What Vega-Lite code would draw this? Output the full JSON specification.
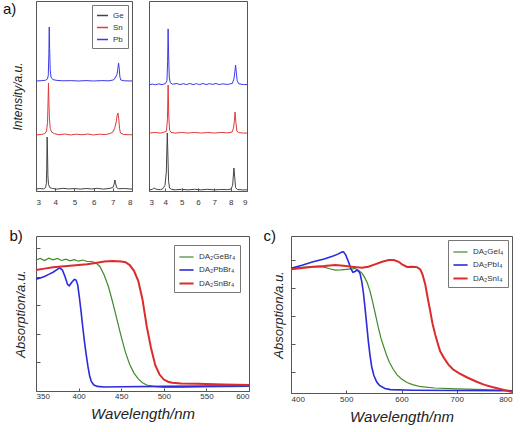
{
  "$schema": "https://vega.github.io/schema/vega-lite/v6.json",
  "padding": {"left": 2, "top": 0, "right": 0, "bottom": 0},
  "config": {
    "font": "Liberation Sans",
    "view": {"stroke": "#555555", "strokeWidth": 1},
    "axis": {"domain": false, "grid": false, "labelFontSize": 8, "labelColor": "#333333", "tickColor": "#555555", "titleFontWeight": "normal", "titleColor": "#222222", "titleFont": "Liberation Sans"},
    "legend": {"labelFontSize": 8, "labelColor": "#333333", "symbolType": "stroke", "strokeColor": "#777777", "fillColor": "white", "padding": 4, "rowPadding": 1, "symbolStrokeWidth": 1.5},
    "title": {"fontWeight": "normal", "fontSize": 15, "anchor": "start", "frame": "bounds", "color": "#111111"}
  },
  "resolve": {"scale": {"color": "independent", "strokeWidth": "independent", "x": "independent", "y": "independent"}, "legend": {"color": "independent", "strokeWidth": "independent"}},
  "spacing": 21,
  "vconcat": [
    {
      "spacing": 11,
      "resolve": {"scale": {"color": "independent", "x": "independent", "y": "independent"}, "legend": {"color": "independent"}},
      "hconcat": [
        {
          "title": {"text": "a)", "offset": -16, "dx": -8},
          "width": 96,
          "height": 190,
          "data": {"values": [
            {"s":"Ge","x":3.0,"y":1.0},{"s":"Ge","x":3.2,"y":1.3},{"s":"Ge","x":3.4,"y":1.1},{"s":"Ge","x":3.5,"y":1.8},{"s":"Ge","x":3.54,"y":4},{"s":"Ge","x":3.56,"y":12},{"s":"Ge","x":3.58,"y":28.4},{"s":"Ge","x":3.6,"y":20},{"s":"Ge","x":3.62,"y":8},{"s":"Ge","x":3.65,"y":3.5},{"s":"Ge","x":3.72,"y":1.8},{"s":"Ge","x":3.85,"y":1.3},{"s":"Ge","x":4.1,"y":1.0},{"s":"Ge","x":4.4,"y":1.4},{"s":"Ge","x":4.7,"y":1.1},{"s":"Ge","x":5.0,"y":1.3},{"s":"Ge","x":5.3,"y":1.0},{"s":"Ge","x":5.6,"y":1.3},{"s":"Ge","x":5.9,"y":1.1},{"s":"Ge","x":6.2,"y":1.4},{"s":"Ge","x":6.5,"y":1.0},{"s":"Ge","x":6.8,"y":1.3},{"s":"Ge","x":7.0,"y":1.8},{"s":"Ge","x":7.06,"y":3.2},{"s":"Ge","x":7.11,"y":5.8},{"s":"Ge","x":7.15,"y":3.8},{"s":"Ge","x":7.2,"y":1.8},{"s":"Ge","x":7.3,"y":1.2},{"s":"Ge","x":7.6,"y":1.3},{"s":"Ge","x":8.0,"y":1.0},
            {"s":"Sn","x":3.0,"y":29.5},{"s":"Sn","x":3.3,"y":29.8},{"s":"Sn","x":3.45,"y":30.2},{"s":"Sn","x":3.55,"y":31.5},{"s":"Sn","x":3.6,"y":36},{"s":"Sn","x":3.63,"y":48},{"s":"Sn","x":3.65,"y":56.8},{"s":"Sn","x":3.67,"y":48},{"s":"Sn","x":3.7,"y":38},{"s":"Sn","x":3.74,"y":33},{"s":"Sn","x":3.82,"y":31},{"s":"Sn","x":3.95,"y":30.2},{"s":"Sn","x":4.2,"y":29.6},{"s":"Sn","x":4.5,"y":30},{"s":"Sn","x":4.8,"y":29.5},{"s":"Sn","x":5.1,"y":29.9},{"s":"Sn","x":5.4,"y":29.6},{"s":"Sn","x":5.7,"y":30},{"s":"Sn","x":6.0,"y":29.5},{"s":"Sn","x":6.3,"y":29.9},{"s":"Sn","x":6.6,"y":29.7},{"s":"Sn","x":6.85,"y":30.2},{"s":"Sn","x":7.0,"y":31},{"s":"Sn","x":7.1,"y":33},{"s":"Sn","x":7.18,"y":36.5},{"s":"Sn","x":7.23,"y":40},{"s":"Sn","x":7.27,"y":41},{"s":"Sn","x":7.31,"y":38},{"s":"Sn","x":7.35,"y":33},{"s":"Sn","x":7.4,"y":30.5},{"s":"Sn","x":7.55,"y":29.8},{"s":"Sn","x":7.8,"y":29.6},{"s":"Sn","x":8.0,"y":29.6},
            {"s":"Pb","x":3.0,"y":57.9},{"s":"Pb","x":3.3,"y":58.1},{"s":"Pb","x":3.5,"y":58.3},{"s":"Pb","x":3.6,"y":59},{"s":"Pb","x":3.64,"y":61},{"s":"Pb","x":3.67,"y":72},{"s":"Pb","x":3.69,"y":86.3},{"s":"Pb","x":3.71,"y":75},{"s":"Pb","x":3.74,"y":64},{"s":"Pb","x":3.78,"y":60},{"s":"Pb","x":3.88,"y":58.6},{"s":"Pb","x":4.1,"y":58.2},{"s":"Pb","x":4.4,"y":58},{"s":"Pb","x":4.8,"y":58.1},{"s":"Pb","x":5.2,"y":57.9},{"s":"Pb","x":5.6,"y":58.1},{"s":"Pb","x":6.0,"y":57.9},{"s":"Pb","x":6.4,"y":58.1},{"s":"Pb","x":6.8,"y":58},{"s":"Pb","x":7.05,"y":58.5},{"s":"Pb","x":7.15,"y":60},{"s":"Pb","x":7.22,"y":61.5},{"s":"Pb","x":7.26,"y":64},{"s":"Pb","x":7.3,"y":67.4},{"s":"Pb","x":7.33,"y":65},{"s":"Pb","x":7.37,"y":60},{"s":"Pb","x":7.42,"y":58.4},{"s":"Pb","x":7.6,"y":58},{"s":"Pb","x":8.0,"y":57.9}
          ]},
          "mark": {"type": "line", "strokeWidth": 1},
          "encoding": {
            "x": {"field": "x", "type": "quantitative", "scale": {"domain": [3, 8], "nice": false, "zero": false}, "axis": {"values": [3, 4, 5, 6, 7, 8], "title": null, "tickSize": -3, "labelPadding": 10}},
            "y": {"field": "y", "type": "quantitative", "scale": {"domain": [0, 100]}, "axis": {"title": "Intensity/a.u.", "titleFontStyle": "italic", "titleFontSize": 12, "labels": false, "ticks": false, "titlePadding": 12}},
            "color": {"field": "s", "type": "nominal", "scale": {"domain": ["Ge", "Sn", "Pb"], "range": ["#444444", "#e03a3a", "#3a3ae6"]}, "legend": {"title": null, "orient": "top-right", "offset": 4, "symbolSize": 120, "labelFontSize": 8}}
          }
        },
        {
          "width": 98,
          "height": 190,
          "data": {"values": [
            {"s":"Ge","x":3.0,"y":0.6},{"s":"Ge","x":3.2,"y":0.8},{"s":"Ge","x":3.3,"y":1.6},{"s":"Ge","x":3.38,"y":1.2},{"s":"Ge","x":3.5,"y":0.8},{"s":"Ge","x":3.7,"y":0.7},{"s":"Ge","x":3.85,"y":1.2},{"s":"Ge","x":3.98,"y":3},{"s":"Ge","x":4.06,"y":10},{"s":"Ge","x":4.12,"y":30.5},{"s":"Ge","x":4.16,"y":18},{"s":"Ge","x":4.2,"y":5},{"s":"Ge","x":4.26,"y":1.5},{"s":"Ge","x":4.4,"y":0.8},{"s":"Ge","x":4.6,"y":0.6},{"s":"Ge","x":5.0,"y":0.9},{"s":"Ge","x":5.4,"y":0.6},{"s":"Ge","x":5.8,"y":0.9},{"s":"Ge","x":6.2,"y":0.6},{"s":"Ge","x":6.6,"y":0.9},{"s":"Ge","x":7.0,"y":0.6},{"s":"Ge","x":7.4,"y":0.8},{"s":"Ge","x":7.8,"y":0.7},{"s":"Ge","x":8.02,"y":1.0},{"s":"Ge","x":8.12,"y":3},{"s":"Ge","x":8.2,"y":12.1},{"s":"Ge","x":8.25,"y":7},{"s":"Ge","x":8.3,"y":1.8},{"s":"Ge","x":8.4,"y":0.8},{"s":"Ge","x":8.7,"y":0.6},{"s":"Ge","x":9.0,"y":0.6},
            {"s":"Sn","x":3.0,"y":30.5},{"s":"Sn","x":3.4,"y":30.8},{"s":"Sn","x":3.7,"y":30.5},{"s":"Sn","x":3.9,"y":30.9},{"s":"Sn","x":4.07,"y":31.5},{"s":"Sn","x":4.13,"y":38},{"s":"Sn","x":4.17,"y":55.8},{"s":"Sn","x":4.21,"y":40},{"s":"Sn","x":4.26,"y":32},{"s":"Sn","x":4.35,"y":30.8},{"s":"Sn","x":4.6,"y":30.5},{"s":"Sn","x":5.0,"y":30.8},{"s":"Sn","x":5.4,"y":30.5},{"s":"Sn","x":5.8,"y":30.8},{"s":"Sn","x":6.2,"y":30.5},{"s":"Sn","x":6.6,"y":30.8},{"s":"Sn","x":7.0,"y":30.5},{"s":"Sn","x":7.4,"y":30.8},{"s":"Sn","x":7.8,"y":30.6},{"s":"Sn","x":8.08,"y":31},{"s":"Sn","x":8.17,"y":33},{"s":"Sn","x":8.23,"y":37},{"s":"Sn","x":8.27,"y":41.6},{"s":"Sn","x":8.32,"y":36},{"s":"Sn","x":8.38,"y":31.5},{"s":"Sn","x":8.5,"y":30.7},{"s":"Sn","x":8.8,"y":30.5},{"s":"Sn","x":9.0,"y":30.5},
            {"s":"Pb","x":3.0,"y":55.8},{"s":"Pb","x":3.2,"y":56.3},{"s":"Pb","x":3.4,"y":55.9},{"s":"Pb","x":3.6,"y":56.4},{"s":"Pb","x":3.8,"y":56},{"s":"Pb","x":4.0,"y":56.5},{"s":"Pb","x":4.1,"y":58},{"s":"Pb","x":4.14,"y":68},{"s":"Pb","x":4.17,"y":85.3},{"s":"Pb","x":4.2,"y":72},{"s":"Pb","x":4.24,"y":60},{"s":"Pb","x":4.3,"y":57},{"s":"Pb","x":4.45,"y":56.2},{"s":"Pb","x":4.7,"y":56.6},{"s":"Pb","x":4.9,"y":56},{"s":"Pb","x":5.1,"y":56.5},{"s":"Pb","x":5.3,"y":56},{"s":"Pb","x":5.5,"y":56.6},{"s":"Pb","x":5.7,"y":56},{"s":"Pb","x":5.9,"y":56.5},{"s":"Pb","x":6.1,"y":56},{"s":"Pb","x":6.3,"y":56.6},{"s":"Pb","x":6.5,"y":56},{"s":"Pb","x":6.7,"y":56.5},{"s":"Pb","x":6.9,"y":56.1},{"s":"Pb","x":7.1,"y":56.6},{"s":"Pb","x":7.3,"y":56},{"s":"Pb","x":7.5,"y":56.4},{"s":"Pb","x":7.8,"y":56.1},{"s":"Pb","x":8.1,"y":56.6},{"s":"Pb","x":8.2,"y":59},{"s":"Pb","x":8.26,"y":63},{"s":"Pb","x":8.3,"y":66.3},{"s":"Pb","x":8.35,"y":62},{"s":"Pb","x":8.4,"y":58},{"s":"Pb","x":8.5,"y":56.4},{"s":"Pb","x":8.8,"y":56},{"s":"Pb","x":9.0,"y":56}
          ]},
          "mark": {"type": "line", "strokeWidth": 1},
          "encoding": {
            "x": {"field": "x", "type": "quantitative", "scale": {"domain": [3, 9], "nice": false, "zero": false}, "axis": {"values": [3, 4, 5, 6, 7, 8, 9], "title": null, "tickSize": -3, "labelPadding": 10}},
            "y": {"field": "y", "type": "quantitative", "scale": {"domain": [0, 100]}, "axis": null},
            "color": {"field": "s", "type": "nominal", "scale": {"domain": ["Ge", "Sn", "Pb"], "range": ["#444444", "#e03a3a", "#3a3ae6"]}, "legend": null}
          }
        }
      ]
    },
    {
      "spacing": 9,
      "resolve": {"scale": {"color": "independent", "strokeWidth": "independent", "x": "independent", "y": "independent"}, "legend": {"color": "independent", "strokeWidth": "independent"}},
      "hconcat": [
        {
          "title": {"text": "b)", "offset": -8, "dx": -5},
          "width": 213,
          "height": 155,
          "data": {"values": [
            {"s":"DA₂GeBr₄","x":350,"y":0.915},{"s":"DA₂GeBr₄","x":355,"y":0.926},{"s":"DA₂GeBr₄","x":360,"y":0.912},{"s":"DA₂GeBr₄","x":365,"y":0.928},{"s":"DA₂GeBr₄","x":370,"y":0.916},{"s":"DA₂GeBr₄","x":375,"y":0.926},{"s":"DA₂GeBr₄","x":380,"y":0.912},{"s":"DA₂GeBr₄","x":385,"y":0.921},{"s":"DA₂GeBr₄","x":390,"y":0.909},{"s":"DA₂GeBr₄","x":395,"y":0.918},{"s":"DA₂GeBr₄","x":400,"y":0.907},{"s":"DA₂GeBr₄","x":405,"y":0.915},{"s":"DA₂GeBr₄","x":410,"y":0.905},{"s":"DA₂GeBr₄","x":415,"y":0.905},{"s":"DA₂GeBr₄","x":420,"y":0.895},{"s":"DA₂GeBr₄","x":425,"y":0.87},{"s":"DA₂GeBr₄","x":430,"y":0.81},{"s":"DA₂GeBr₄","x":435,"y":0.73},{"s":"DA₂GeBr₄","x":440,"y":0.62},{"s":"DA₂GeBr₄","x":445,"y":0.5},{"s":"DA₂GeBr₄","x":450,"y":0.38},{"s":"DA₂GeBr₄","x":455,"y":0.27},{"s":"DA₂GeBr₄","x":460,"y":0.185},{"s":"DA₂GeBr₄","x":465,"y":0.125},{"s":"DA₂GeBr₄","x":470,"y":0.085},{"s":"DA₂GeBr₄","x":475,"y":0.058},{"s":"DA₂GeBr₄","x":480,"y":0.042},{"s":"DA₂GeBr₄","x":490,"y":0.03},{"s":"DA₂GeBr₄","x":500,"y":0.025},{"s":"DA₂GeBr₄","x":520,"y":0.025},{"s":"DA₂GeBr₄","x":550,"y":0.028},{"s":"DA₂GeBr₄","x":580,"y":0.03},{"s":"DA₂GeBr₄","x":600,"y":0.032},
            {"s":"DA₂PbBr₄","x":350,"y":0.78},{"s":"DA₂PbBr₄","x":355,"y":0.79},{"s":"DA₂PbBr₄","x":360,"y":0.80},{"s":"DA₂PbBr₄","x":365,"y":0.815},{"s":"DA₂PbBr₄","x":370,"y":0.83},{"s":"DA₂PbBr₄","x":375,"y":0.85},{"s":"DA₂PbBr₄","x":378,"y":0.86},{"s":"DA₂PbBr₄","x":381,"y":0.845},{"s":"DA₂PbBr₄","x":384,"y":0.80},{"s":"DA₂PbBr₄","x":387,"y":0.745},{"s":"DA₂PbBr₄","x":389,"y":0.735},{"s":"DA₂PbBr₄","x":392,"y":0.76},{"s":"DA₂PbBr₄","x":395,"y":0.78},{"s":"DA₂PbBr₄","x":397,"y":0.775},{"s":"DA₂PbBr₄","x":399,"y":0.74},{"s":"DA₂PbBr₄","x":401,"y":0.65},{"s":"DA₂PbBr₄","x":403,"y":0.55},{"s":"DA₂PbBr₄","x":405,"y":0.44},{"s":"DA₂PbBr₄","x":407,"y":0.34},{"s":"DA₂PbBr₄","x":409,"y":0.25},{"s":"DA₂PbBr₄","x":411,"y":0.17},{"s":"DA₂PbBr₄","x":413,"y":0.105},{"s":"DA₂PbBr₄","x":415,"y":0.065},{"s":"DA₂PbBr₄","x":418,"y":0.042},{"s":"DA₂PbBr₄","x":422,"y":0.032},{"s":"DA₂PbBr₄","x":430,"y":0.028},{"s":"DA₂PbBr₄","x":450,"y":0.03},{"s":"DA₂PbBr₄","x":500,"y":0.032},{"s":"DA₂PbBr₄","x":550,"y":0.034},{"s":"DA₂PbBr₄","x":600,"y":0.036},
            {"s":"DA₂SnBr₄","x":350,"y":0.845},{"s":"DA₂SnBr₄","x":360,"y":0.855},{"s":"DA₂SnBr₄","x":370,"y":0.865},{"s":"DA₂SnBr₄","x":380,"y":0.87},{"s":"DA₂SnBr₄","x":390,"y":0.875},{"s":"DA₂SnBr₄","x":400,"y":0.88},{"s":"DA₂SnBr₄","x":410,"y":0.885},{"s":"DA₂SnBr₄","x":420,"y":0.895},{"s":"DA₂SnBr₄","x":430,"y":0.905},{"s":"DA₂SnBr₄","x":440,"y":0.908},{"s":"DA₂SnBr₄","x":450,"y":0.905},{"s":"DA₂SnBr₄","x":455,"y":0.9},{"s":"DA₂SnBr₄","x":460,"y":0.88},{"s":"DA₂SnBr₄","x":465,"y":0.84},{"s":"DA₂SnBr₄","x":470,"y":0.77},{"s":"DA₂SnBr₄","x":475,"y":0.64},{"s":"DA₂SnBr₄","x":480,"y":0.45},{"s":"DA₂SnBr₄","x":485,"y":0.3},{"s":"DA₂SnBr₄","x":490,"y":0.18},{"s":"DA₂SnBr₄","x":495,"y":0.115},{"s":"DA₂SnBr₄","x":500,"y":0.08},{"s":"DA₂SnBr₄","x":505,"y":0.065},{"s":"DA₂SnBr₄","x":510,"y":0.058},{"s":"DA₂SnBr₄","x":520,"y":0.053},{"s":"DA₂SnBr₄","x":540,"y":0.05},{"s":"DA₂SnBr₄","x":570,"y":0.046},{"s":"DA₂SnBr₄","x":600,"y":0.042}
          ]},
          "mark": {"type": "line"},
          "encoding": {
            "x": {"field": "x", "type": "quantitative", "scale": {"domain": [350, 600], "nice": false, "zero": false}, "axis": {"values": [350, 400, 450, 500, 550, 600], "title": "Wavelength/nm", "titleFontStyle": "italic", "titleFontSize": 15, "titlePadding": 6, "tickSize": -3, "labelPadding": 4}},
            "y": {"field": "y", "type": "quantitative", "scale": {"domain": [0, 1.083], "nice": false}, "axis": {"values": [0.2, 0.4, 0.6, 0.8, 1.0], "labels": false, "tickSize": -4, "title": "Absorption/a.u.", "titleFontStyle": "italic", "titleFontSize": 13, "titlePadding": 8}},
            "color": {"field": "s", "type": "nominal", "scale": {"domain": ["DA₂GeBr₄", "DA₂PbBr₄", "DA₂SnBr₄"], "range": ["#3f8a2c", "#2b2bdc", "#dc2b2b"]}, "legend": {"title": null, "orient": "top-right", "offset": 9, "symbolSize": 200, "labelFontSize": 8}},
            "strokeWidth": {"field": "s", "type": "ordinal", "scale": {"domain": ["DA₂GeBr₄", "DA₂PbBr₄", "DA₂SnBr₄"], "range": [1.2, 2, 1.6]}, "legend": null}
          }
        },
        {
          "title": {"text": "c)", "offset": -8, "dx": -9},
          "width": 221,
          "height": 157,
          "data": {"values": [
            {"s":"DA₂GeI₄","x":400,"y":0.943},{"s":"DA₂GeI₄","x":420,"y":0.95},{"s":"DA₂GeI₄","x":440,"y":0.955},{"s":"DA₂GeI₄","x":460,"y":0.952},{"s":"DA₂GeI₄","x":470,"y":0.94},{"s":"DA₂GeI₄","x":480,"y":0.93},{"s":"DA₂GeI₄","x":490,"y":0.932},{"s":"DA₂GeI₄","x":500,"y":0.936},{"s":"DA₂GeI₄","x":510,"y":0.94},{"s":"DA₂GeI₄","x":516,"y":0.942},{"s":"DA₂GeI₄","x":522,"y":0.93},{"s":"DA₂GeI₄","x":528,"y":0.91},{"s":"DA₂GeI₄","x":533,"y":0.88},{"s":"DA₂GeI₄","x":538,"y":0.84},{"s":"DA₂GeI₄","x":543,"y":0.78},{"s":"DA₂GeI₄","x":548,"y":0.70},{"s":"DA₂GeI₄","x":553,"y":0.61},{"s":"DA₂GeI₄","x":558,"y":0.52},{"s":"DA₂GeI₄","x":563,"y":0.44},{"s":"DA₂GeI₄","x":568,"y":0.38},{"s":"DA₂GeI₄","x":573,"y":0.32},{"s":"DA₂GeI₄","x":578,"y":0.27},{"s":"DA₂GeI₄","x":585,"y":0.22},{"s":"DA₂GeI₄","x":592,"y":0.18},{"s":"DA₂GeI₄","x":600,"y":0.15},{"s":"DA₂GeI₄","x":610,"y":0.125},{"s":"DA₂GeI₄","x":620,"y":0.11},{"s":"DA₂GeI₄","x":635,"y":0.095},{"s":"DA₂GeI₄","x":660,"y":0.086},{"s":"DA₂GeI₄","x":700,"y":0.08},{"s":"DA₂GeI₄","x":750,"y":0.074},{"s":"DA₂GeI₄","x":800,"y":0.068},
            {"s":"DA₂PbI₄","x":400,"y":0.943},{"s":"DA₂PbI₄","x":420,"y":0.965},{"s":"DA₂PbI₄","x":440,"y":0.99},{"s":"DA₂PbI₄","x":460,"y":1.01},{"s":"DA₂PbI₄","x":475,"y":1.03},{"s":"DA₂PbI₄","x":485,"y":1.045},{"s":"DA₂PbI₄","x":492,"y":1.06},{"s":"DA₂PbI₄","x":495,"y":1.062},{"s":"DA₂PbI₄","x":499,"y":1.04},{"s":"DA₂PbI₄","x":504,"y":0.99},{"s":"DA₂PbI₄","x":508,"y":0.945},{"s":"DA₂PbI₄","x":512,"y":0.915},{"s":"DA₂PbI₄","x":516,"y":0.92},{"s":"DA₂PbI₄","x":519,"y":0.93},{"s":"DA₂PbI₄","x":522,"y":0.925},{"s":"DA₂PbI₄","x":525,"y":0.905},{"s":"DA₂PbI₄","x":528,"y":0.85},{"s":"DA₂PbI₄","x":531,"y":0.77},{"s":"DA₂PbI₄","x":534,"y":0.66},{"s":"DA₂PbI₄","x":537,"y":0.54},{"s":"DA₂PbI₄","x":540,"y":0.42},{"s":"DA₂PbI₄","x":543,"y":0.32},{"s":"DA₂PbI₄","x":546,"y":0.24},{"s":"DA₂PbI₄","x":550,"y":0.175},{"s":"DA₂PbI₄","x":555,"y":0.13},{"s":"DA₂PbI₄","x":560,"y":0.105},{"s":"DA₂PbI₄","x":570,"y":0.082},{"s":"DA₂PbI₄","x":580,"y":0.074},{"s":"DA₂PbI₄","x":620,"y":0.07},{"s":"DA₂PbI₄","x":700,"y":0.068},{"s":"DA₂PbI₄","x":800,"y":0.066},
            {"s":"DA₂SnI₄","x":400,"y":0.936},{"s":"DA₂SnI₄","x":420,"y":0.945},{"s":"DA₂SnI₄","x":440,"y":0.955},{"s":"DA₂SnI₄","x":460,"y":0.96},{"s":"DA₂SnI₄","x":480,"y":0.967},{"s":"DA₂SnI₄","x":495,"y":0.962},{"s":"DA₂SnI₄","x":510,"y":0.955},{"s":"DA₂SnI₄","x":528,"y":0.948},{"s":"DA₂SnI₄","x":540,"y":0.955},{"s":"DA₂SnI₄","x":552,"y":0.972},{"s":"DA₂SnI₄","x":565,"y":0.99},{"s":"DA₂SnI₄","x":577,"y":1.003},{"s":"DA₂SnI₄","x":586,"y":1.003},{"s":"DA₂SnI₄","x":595,"y":0.99},{"s":"DA₂SnI₄","x":601,"y":0.972},{"s":"DA₂SnI₄","x":610,"y":0.953},{"s":"DA₂SnI₄","x":620,"y":0.955},{"s":"DA₂SnI₄","x":628,"y":0.952},{"s":"DA₂SnI₄","x":634,"y":0.936},{"s":"DA₂SnI₄","x":638,"y":0.9},{"s":"DA₂SnI₄","x":643,"y":0.828},{"s":"DA₂SnI₄","x":647,"y":0.74},{"s":"DA₂SnI₄","x":652,"y":0.637},{"s":"DA₂SnI₄","x":656,"y":0.55},{"s":"DA₂SnI₄","x":661,"y":0.469},{"s":"DA₂SnI₄","x":666,"y":0.4},{"s":"DA₂SnI₄","x":670,"y":0.349},{"s":"DA₂SnI₄","x":677,"y":0.3},{"s":"DA₂SnI₄","x":685,"y":0.253},{"s":"DA₂SnI₄","x":693,"y":0.22},{"s":"DA₂SnI₄","x":703,"y":0.194},{"s":"DA₂SnI₄","x":718,"y":0.163},{"s":"DA₂SnI₄","x":734,"y":0.134},{"s":"DA₂SnI₄","x":749,"y":0.11},{"s":"DA₂SnI₄","x":764,"y":0.093},{"s":"DA₂SnI₄","x":782,"y":0.075},{"s":"DA₂SnI₄","x":800,"y":0.057}
          ]},
          "mark": {"type": "line"},
          "encoding": {
            "x": {"field": "x", "type": "quantitative", "scale": {"domain": [400, 800], "nice": false, "zero": false}, "axis": {"values": [400, 500, 600, 700, 800], "title": "Wavelength/nm", "titleFontStyle": "italic", "titleFontSize": 15, "titlePadding": 6, "tickSize": -3, "labelPadding": 5}},
            "y": {"field": "y", "type": "quantitative", "scale": {"domain": [0.05, 1.175], "nice": false, "zero": false}, "axis": {"values": [0.2, 0.4, 0.6, 0.8, 1.0], "labels": false, "tickSize": -4, "title": "Absorption/a.u.", "titleFontStyle": "italic", "titleFontSize": 13, "titlePadding": 5}},
            "color": {"field": "s", "type": "nominal", "scale": {"domain": ["DA₂GeI₄", "DA₂PbI₄", "DA₂SnI₄"], "range": ["#3f8a2c", "#2b2bdc", "#dc2b2b"]}, "legend": {"title": null, "orient": "top-right", "offset": 4, "symbolSize": 200, "labelFontSize": 8}},
            "strokeWidth": {"field": "s", "type": "ordinal", "scale": {"domain": ["DA₂GeI₄", "DA₂PbI₄", "DA₂SnI₄"], "range": [1.2, 2, 1.6]}, "legend": null}
          }
        }
      ]
    }
  ]
}
